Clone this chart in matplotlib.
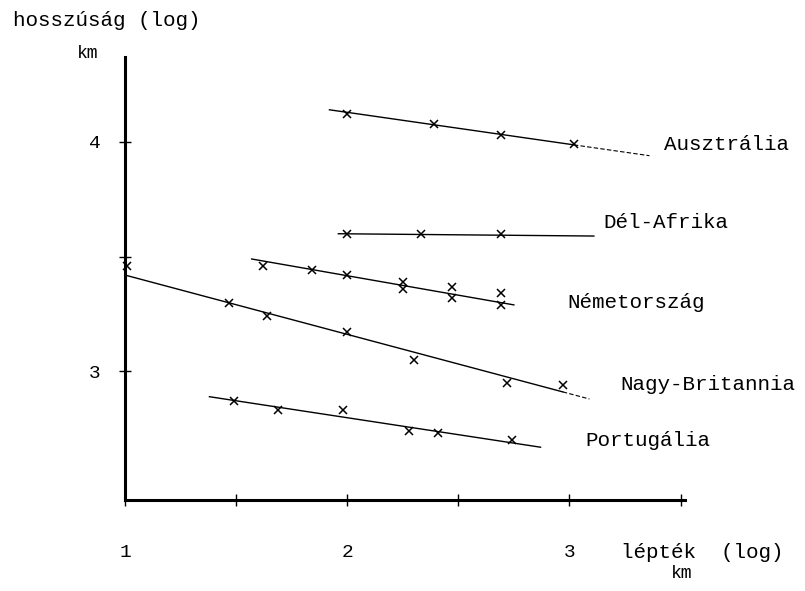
import matplotlib
matplotlib.use("Agg")
import matplotlib.pyplot as plt
import numpy as np

# log scale (km) vs log length (km)
aus_x = [2.00, 2.39, 2.69, 3.02]
aus_y = [4.12, 4.08, 4.03, 3.99]
aus_line_x = [1.92, 3.36]
aus_line_y = [4.14, 3.94]

saf_x = [2.00, 2.33, 2.69]
saf_y = [3.60, 3.60, 3.60]
saf_line_x = [1.96, 3.11]
saf_line_y = [3.60, 3.59]

ger_x = [1.62, 1.84, 2.00, 2.25, 2.25, 2.47, 2.47, 2.69, 2.69]
ger_y = [3.46, 3.44, 3.42, 3.39, 3.36, 3.37, 3.32, 3.34, 3.29]
ger_line_x = [1.57, 2.75]
ger_line_y = [3.49, 3.29]

gb_x = [1.01, 1.47, 1.64, 2.00, 2.30, 2.72, 2.97]
gb_y = [3.46, 3.30, 3.24, 3.17, 3.05, 2.95, 2.94]
gb_line_x = [1.00, 3.09]
gb_line_y = [3.42, 2.88]

por_x = [1.49, 1.69, 1.98, 2.28, 2.41, 2.74]
por_y = [2.87, 2.83, 2.83, 2.74, 2.73, 2.70]
por_line_x = [1.38, 2.87]
por_line_y = [2.89, 2.67]

names = ["Ausztrália", "Dél-Afrika", "Németország", "Nagy-Britannia", "Portugália"]

W, H = 805, 591
fig = plt.figure(figsize=(W / 100, H / 100), dpi=100)
fig.patch.set_facecolor("white")

def px(x, y):
    return x / W, 1 - y / H

# axes box from pixel corners of the drawn axes
ax = fig.add_axes([125 / W, 1 - 500 / H, (685 - 125) / W, (500 - 57) / H])
ax.set_xlim(1, 3.52)
ax.set_ylim(2.44, 4.37)
for s in ["top", "right"]:
    ax.spines[s].set_visible(False)
ax.spines["left"].set_linewidth(2.2)
ax.spines["bottom"].set_linewidth(2.2)

mono = "Liberation Mono"

ax.set_xticks([1, 1.5, 2, 2.5, 3, 3.5])
ax.set_xticklabels(["1", "", "2", "", "3", ""])
ax.set_yticks([3, 3.5, 4])
ax.set_yticklabels(["3", "", "4"])
ax.tick_params(axis="both", direction="inout", length=9, width=1, labelsize=14)
ax.tick_params(axis="x", pad=27)
ax.tick_params(axis="y", pad=13)
for lab in ax.get_xticklabels() + ax.get_yticklabels():
    lab.set_fontfamily(mono)

series = [
    (aus_x, aus_y, aus_line_x, aus_line_y, True),
    (saf_x, saf_y, saf_line_x, saf_line_y, False),
    (ger_x, ger_y, ger_line_x, ger_line_y, False),
    (gb_x, gb_y, gb_line_x, gb_line_y, True),
    (por_x, por_y, por_line_x, por_line_y, False),
]
for xs, ys, lx, ly, dashed_tail in series:
    if dashed_tail:
        # solid up to the last measured point, then a dashed extension
        xm = xs[-1]
        ym = np.interp(xm, lx, ly)
        ax.plot([lx[0], xm], [ly[0], ym], color="black", lw=1.0, clip_on=False)
        ax.plot([xm, lx[1]], [ym, ly[1]], color="black", lw=0.8,
                linestyle=(0, (4, 2)), clip_on=False)
    else:
        ax.plot(lx, ly, color="black", lw=1.0, clip_on=False)
    ax.plot(xs, ys, linestyle="none", marker="x", color="black", ms=6, mew=1.1,
            clip_on=False)

label_pos = [(664, 145), (603, 222), (567, 302), (620, 385), (585, 440)]
for name, (lx, ly) in zip(names, label_pos):
    fig.text(*px(lx, ly), name, fontsize=15, family=mono, ha="left", va="center")

fig.text(*px(13, 20), "hosszúság (log)", fontsize=15, family=mono, ha="left", va="center")
fig.text(*px(88, 54), "km", fontsize=13, family=mono, ha="center", va="center")
fig.text(*px(621, 552), "lépték  (log)", fontsize=15, family=mono, ha="left", va="center")
fig.text(*px(682, 574), "km", fontsize=13, family=mono, ha="center", va="center")

fig.savefig("out.png", dpi=100)
